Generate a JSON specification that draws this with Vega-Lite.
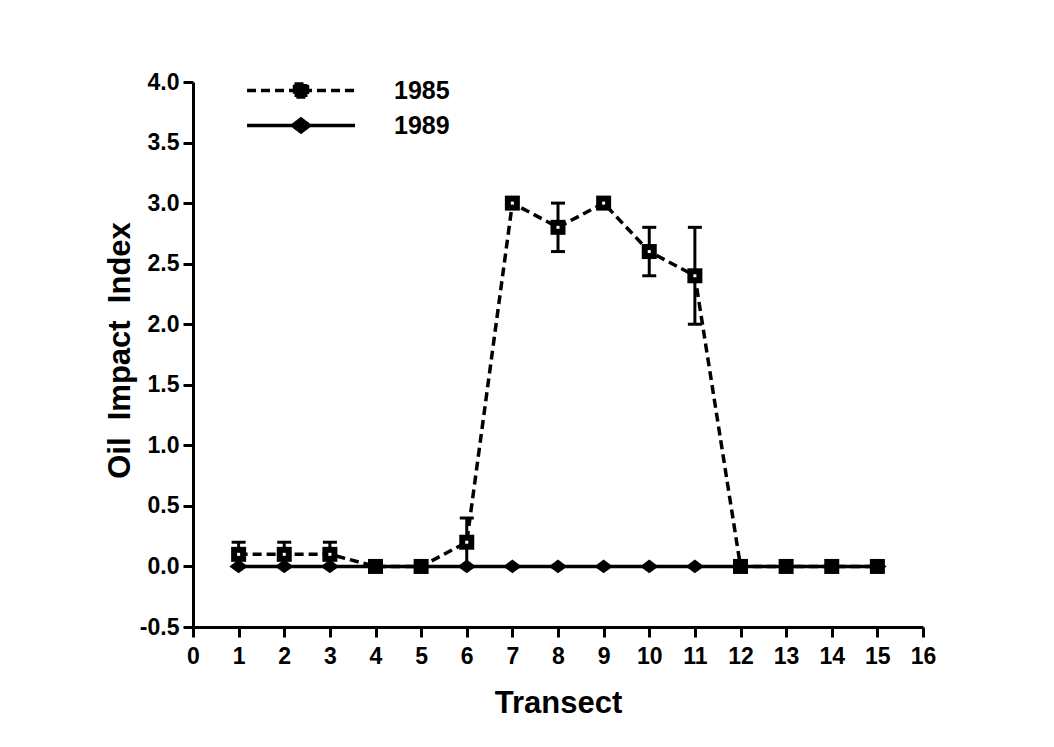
{
  "$schema": "https://vega.github.io/schema/vega-lite/v6.json",
  "autosize": "none",
  "width": 730,
  "height": 545,
  "padding": {"left": 193, "top": 82, "right": 131, "bottom": 120},
  "background": "white",
  "config": {
    "view": {"stroke": null},
    "font": "Liberation Sans",
    "axis": {
      "domainColor": "black", "domainWidth": 3, "tickColor": "black", "tickWidth": 3, "tickSize": 10,
      "labelColor": "black", "labelFont": "Liberation Sans", "labelFontWeight": "bold", "labelFontSize": 23,
      "titleColor": "black", "titleFont": "Liberation Sans", "titleFontWeight": "bold", "titleFontSize": 31,
      "grid": false
    }
  },
  "data": {
    "values": [
      {"transect": 1, "year": "1985", "value": 0.1, "lo": 0.0, "hi": 0.2},
      {"transect": 2, "year": "1985", "value": 0.1, "lo": 0.0, "hi": 0.2},
      {"transect": 3, "year": "1985", "value": 0.1, "lo": 0.0, "hi": 0.2},
      {"transect": 4, "year": "1985", "value": 0.0},
      {"transect": 5, "year": "1985", "value": 0.0},
      {"transect": 6, "year": "1985", "value": 0.2, "lo": 0.0, "hi": 0.4},
      {"transect": 7, "year": "1985", "value": 3.0},
      {"transect": 8, "year": "1985", "value": 2.8, "lo": 2.6, "hi": 3.0},
      {"transect": 9, "year": "1985", "value": 3.0},
      {"transect": 10, "year": "1985", "value": 2.6, "lo": 2.4, "hi": 2.8},
      {"transect": 11, "year": "1985", "value": 2.4, "lo": 2.0, "hi": 2.8},
      {"transect": 12, "year": "1985", "value": 0.0},
      {"transect": 13, "year": "1985", "value": 0.0},
      {"transect": 14, "year": "1985", "value": 0.0},
      {"transect": 15, "year": "1985", "value": 0.0},
      {"transect": 1, "year": "1989", "value": 0.0},
      {"transect": 2, "year": "1989", "value": 0.0},
      {"transect": 3, "year": "1989", "value": 0.0},
      {"transect": 4, "year": "1989", "value": 0.0},
      {"transect": 5, "year": "1989", "value": 0.0},
      {"transect": 6, "year": "1989", "value": 0.0},
      {"transect": 7, "year": "1989", "value": 0.0},
      {"transect": 8, "year": "1989", "value": 0.0},
      {"transect": 9, "year": "1989", "value": 0.0},
      {"transect": 10, "year": "1989", "value": 0.0},
      {"transect": 11, "year": "1989", "value": 0.0},
      {"transect": 12, "year": "1989", "value": 0.0},
      {"transect": 13, "year": "1989", "value": 0.0},
      {"transect": 14, "year": "1989", "value": 0.0},
      {"transect": 15, "year": "1989", "value": 0.0}
    ]
  },
  "encoding": {
    "x": {
      "field": "transect", "type": "quantitative",
      "scale": {"domain": [0, 16], "nice": false, "zero": false},
      "axis": {
        "title": "Transect", "values": [0,1,2,3,4,5,6,7,8,9,10,11,12,13,14,15,16], "format": "d",
        "labelPadding": 8, "titleY": 76, "titleBaseline": "middle", "labelFlush": false, "labelOverlap": false
      }
    },
    "y": {
      "field": "value", "type": "quantitative",
      "scale": {"domain": [-0.5, 4.0], "nice": false, "zero": false},
      "axis": {
        "title": "Oil\u00a0 Impact\u00a0 Index", "values": [-0.5,0,0.5,1,1.5,2,2.5,3,3.5,4], "format": ".1f",
        "labelExpr": "replace(datum.label, '\u2212', '-')",
        "labelPadding": 4, "titleX": -73, "titleY": 268, "titleBaseline": "middle", "titleAngle": 270, "titleAlign": "center", "labelFlush": false, "labelOverlap": false
      }
    }
  },
  "layer": [
    {
      "transform": [{"filter": "datum.hi != null"}],
      "mark": {"type": "rule", "color": "black", "strokeWidth": 3},
      "encoding": {"y": {"field": "lo", "type": "quantitative"}, "y2": {"field": "hi"}}
    },
    {
      "transform": [{"filter": "datum.hi != null"}],
      "mark": {"type": "tick", "orient": "horizontal", "color": "black", "size": 14, "thickness": 3, "opacity": 1},
      "encoding": {"y": {"field": "hi", "type": "quantitative"}}
    },
    {
      "transform": [{"filter": "datum.hi != null"}],
      "mark": {"type": "tick", "orient": "horizontal", "color": "black", "size": 14, "thickness": 3, "opacity": 1},
      "encoding": {"y": {"field": "lo", "type": "quantitative"}}
    },
    {
      "mark": {"type": "line", "color": "black", "strokeWidth": 3.5},
      "encoding": {
        "strokeDash": {
          "field": "year", "type": "nominal",
          "scale": {"domain": ["1985", "1989"], "range": [[9, 5], [1, 0]]},
          "legend": {
            "title": null, "orient": "none", "legendX": 52, "legendY": -9, "padding": 0,
            "symbolSize": 11664, "symbolStrokeWidth": 3, "symbolStrokeColor": "black", "symbolFillColor": "black",
            "clipHeight": 35, "rowPadding": 0, "labelOffset": 37,
            "labelFont": "Liberation Sans", "labelFontSize": 25, "labelFontWeight": "bold", "labelColor": "black",
            "labelBaseline": "middle",
            "encode": {
              "symbols": {
                "update": {
                  "shape": {"signal": "datum.value == '1985' ? 'M-1,0H1M-0.12,-0.12H0.12V0.12H-0.12Z' : 'M-1,0H1M-0.16,0L0,-0.12L0.16,0L0,0.12Z'"},
                  "fill": {"value": "black"},
                  "stroke": {"value": "black"},
                  "strokeWidth": {"value": 3.5},
                  "opacity": {"value": 1}
                }
              }
            }
          }
        }
      }
    },
    {
      "transform": [{"filter": "datum.year == '1985'"}],
      "mark": {"type": "point", "shape": "square", "filled": true, "color": "black", "size": 225, "opacity": 1}
    },
    {
      "transform": [{"filter": "datum.year == '1985'"}],
      "mark": {"type": "point", "shape": "square", "filled": true, "color": "white", "size": 9, "opacity": 1}
    },
    {
      "transform": [{"filter": "datum.year == '1989'"}],
      "mark": {"type": "point", "shape": "M-1,0L0,-0.75L1,0L0,0.75Z", "filled": true, "color": "black", "size": 340, "opacity": 1}
    }
  ]
}
